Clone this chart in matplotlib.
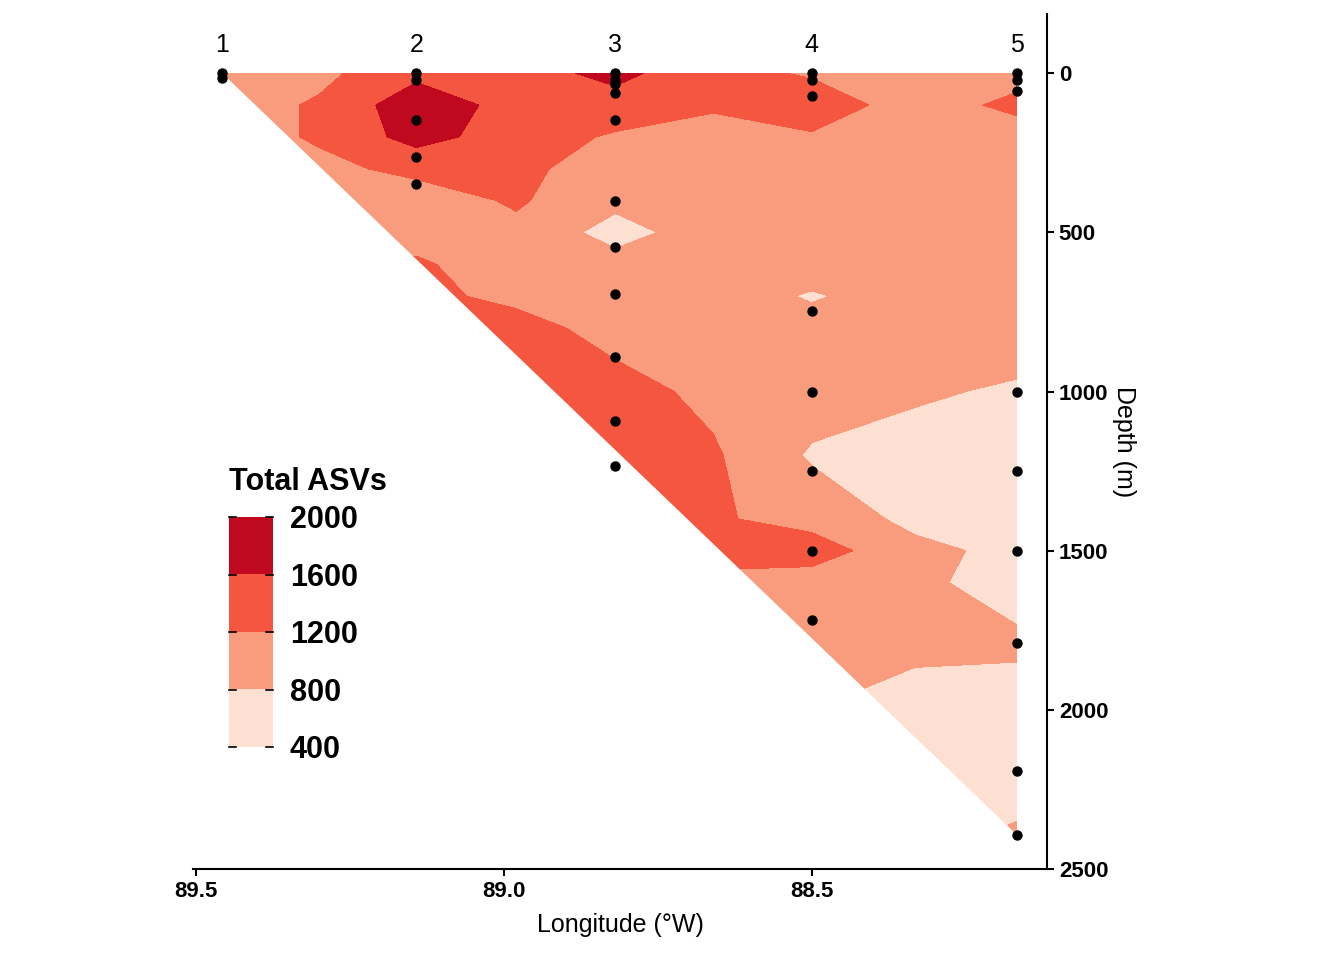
import numpy as np
import matplotlib
matplotlib.use("Agg")
import matplotlib.pyplot as plt
from matplotlib.patches import Polygon
from matplotlib.colors import ListedColormap

plt.rcParams["font.family"] = ["Liberation Sans", "DejaVu Sans"]

# ----- data -----
grid_lon = [89.458, 89.30, 89.142, 88.98, 88.819, 88.66, 88.5, 88.333, 88.167]
grid_depth = [0, 100, 200, 300, 400, 500, 600, 700, 800, 1000, 1200, 1400, 1500, 1600, 1800, 2000, 2200, 2400]
grid_asv = [
    [1000, 1100, 1500, 1450, 1700, 1350, 1150, 1000, 1050],
    [1000, 1250, 1850, 1450, 1450, 1250, 1450, 1000, 1300],
    [1000, 1250, 1750, 1400, 1150, 1050, 1150, 1000, 1000],
    [1000, 1100, 1300, 1300, 1000,  950,  950,  950,  950],
    [1000, 1000, 1000, 1250,  900,  950,  950,  950,  950],
    [1000, 1000, 1050, 1100,  650, 1000, 1000, 1000, 1000],
    [1300, 1300, 1250, 1000,  950, 1000, 1000, 1000, 1000],
    [1300, 1300, 1300, 1100, 1000, 1000,  760, 1000, 1000],
    [1300, 1300, 1300, 1350, 1050, 1000,  950, 1000, 1000],
    [1400, 1400, 1400, 1400, 1350, 1100, 1000,  850,  750],
    [1450, 1450, 1450, 1450, 1450, 1250,  750,  650,  650],
    [1400, 1400, 1400, 1400, 1400, 1250, 1050,  700,  650],
    [1350, 1350, 1350, 1350, 1350, 1350, 1400,  900,  700],
    [1100, 1100, 1100, 1100, 1100, 1100, 1000,  850,  700],
    [1000, 1000, 1000, 1000, 1000, 1000,  950,  850,  850],
    [ 800,  800,  800,  800,  800,  800,  800,  700,  650],
    [ 650,  650,  650,  650,  650,  650,  650,  650,  650],
    [ 700,  700,  700,  700,  700,  700,  700,  700,  850],
]

station_ids = ["1", "2", "3", "4", "5"]
station_lon = [89.458, 89.142, 88.819, 88.5, 88.167]
sample_depths = [
    [0, 15],
    [0, 20, 148, 264, 349],
    [0, 20, 35, 63, 148, 400, 547, 694, 892, 1093, 1235],
    [0, 20, 72, 748, 1000, 1250, 1500, 1718],
    [0, 20, 57, 1000, 1250, 1500, 1790, 2192, 2394],
]
bottom_depth = 2394

levels = [400, 800, 1200, 1600, 2000]
colors = ["#fde0d2", "#f89c7d", "#f5563f", "#c0091e"]
cmap = ListedColormap(colors)

fig = plt.figure(figsize=(13.44, 9.6), dpi=100)
ax = fig.add_axes([0.1436, 0.0948, 0.779 - 0.1436, 0.985 - 0.0948])

cs = ax.contourf(grid_lon, grid_depth, np.array(grid_asv), levels=levels, colors=colors)
tri = Polygon([(station_lon[0], 0), (station_lon[-1], 0), (station_lon[-1], bottom_depth)],
              closed=True, transform=ax.transData, facecolor="none", edgecolor="none")
ax.add_patch(tri)
cs.set_clip_path(tri)

for sid, lon, deps in zip(station_ids, station_lon, sample_depths):
    ax.scatter([lon] * len(deps), deps, s=42, color="black", zorder=5, clip_on=False)
    ax.text(lon, -90, sid, ha="center", va="center", fontsize=18)

ax.set_xlim(89.505, 88.118)
ax.set_ylim(2500, -185)
ax.set_xticks([89.5, 89.0, 88.5])
ax.set_xticklabels(["89.5", "89.0", "88.5"], fontsize=16, fontweight="bold")
ax.set_yticks([0, 500, 1000, 1500, 2000, 2500])
ax.set_yticklabels(["0", "500", "1000", "1500", "2000", "2500"], fontsize=16, fontweight="bold")
ax.yaxis.tick_right()
ax.yaxis.set_label_position("right")
for s in ["top", "left"]:
    ax.spines[s].set_visible(False)
for s in ["bottom", "right"]:
    ax.spines[s].set_linewidth(1.5)
ax.tick_params(width=1.5, length=5)
ax.set_xlabel("Longitude (°W)", fontsize=18, labelpad=8)
ax.set_ylabel("Depth (m)", fontsize=18, rotation=-90, labelpad=20)

# legend
lax = fig.add_axes([229 / 1344, 1 - 747 / 960, 44 / 1344, 230 / 960])
lax.imshow(np.arange(4)[::-1].reshape(-1, 1), cmap=cmap, aspect="auto",
           extent=[0, 1, 400, 2000])
lax.set_xlim(0, 1)
lax.set_ylim(400, 2000)
lax.set_xticks([])
lax.set_yticks(levels)
lax.yaxis.tick_right()
lax.set_yticklabels([str(v) for v in levels], fontsize=22, fontweight="bold")
lax.tick_params(axis="y", length=0, pad=12)
for v in levels:
    lax.plot([0, 0.15], [v, v], color="black", lw=1.2, clip_on=False)
    lax.plot([0.85, 1], [v, v], color="black", lw=1.2, clip_on=False)
for s in lax.spines.values():
    s.set_visible(False)
fig.text(229 / 1344, 1 - 482 / 960, "Total ASVs", fontsize=22, fontweight="bold", va="center")

fig.savefig("out.png", dpi=100)
